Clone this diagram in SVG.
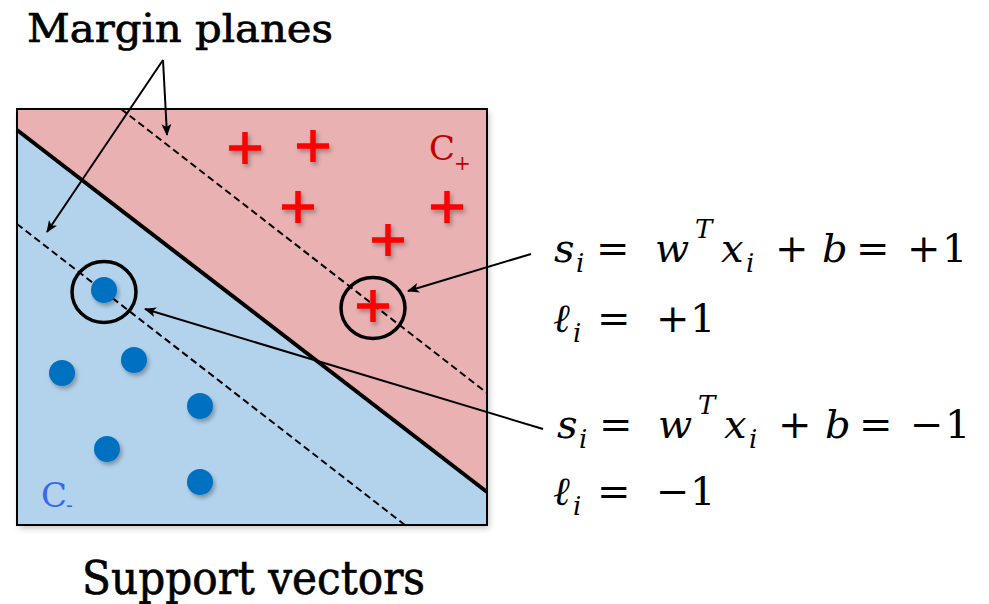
<svg xmlns="http://www.w3.org/2000/svg" width="989" height="604" viewBox="0 0 989 604">
<style>
.lbl{font-family:'DejaVu Serif','Liberation Serif',serif;fill:#000}
.ttl{stroke:#000;stroke-width:0.7}
.m{font-family:'DejaVu Serif','Liberation Serif',serif;font-style:italic;font-size:40px;fill:#000}
.r{font-family:'DejaVu Serif','Liberation Serif',serif;font-style:normal;font-size:40px;fill:#000}
.sub{font-family:'DejaVu Serif','Liberation Serif',serif;font-style:italic;font-size:26px;fill:#000}
.plus{stroke:#ff0000;stroke-width:5.5;fill:none}
.dot{fill:#0070c0}
.ring{fill:none;stroke:#000;stroke-width:3.5}
.conn{stroke:#000;stroke-width:2;fill:none}
.dash{stroke:#000;stroke-width:2;stroke-dasharray:7 4;fill:none}
</style>
<defs>
<marker id="ah" viewBox="0 0 12 10" refX="11" refY="5" markerWidth="12" markerHeight="10" markerUnits="userSpaceOnUse" orient="auto">
<path d="M0,0 L12,5 L0,10 L3,5 z" fill="#000"/>
</marker>
<filter id="sh" x="-30%" y="-30%" width="160%" height="160%">
<feDropShadow dx="2" dy="3" stdDeviation="2" flood-color="#000" flood-opacity="0.3"/>
</filter>
<filter id="bsh" x="-5%" y="-5%" width="110%" height="110%">
<feDropShadow dx="2" dy="3" stdDeviation="3" flood-color="#000" flood-opacity="0.25"/>
</filter>
</defs>

<g id="plot">
<g filter="url(#bsh)">
<rect x="17" y="109" width="470" height="416" fill="#b3d3ec"/>
</g>
<polygon points="17,109 487,109 487,492 17,130" fill="#e9b1b1"/>
<polygon points="17,130 487,492 487,525 17,525" fill="#b3d3ec"/>
<rect x="17" y="109" width="470" height="416" fill="none" stroke="#000" stroke-width="2"/>
<line x1="17" y1="130" x2="487" y2="492" stroke="#000" stroke-width="4"/>
<line class="dash" x1="121" y1="109" x2="487" y2="393"/>
<line class="dash" x1="17" y1="224" x2="405" y2="525"/>
</g>

<g id="positives" filter="url(#sh)">
<path class="plus" d="M229,148h32M245,132v32"/>
<path class="plus" d="M297,146h32M313,130v32"/>
<path class="plus" d="M282,207h32M298,191v32"/>
<path class="plus" d="M431,207h32M447,191v32"/>
<path class="plus" d="M372,240h32M388,224v32"/>
<path class="plus" d="M357,306h32M373,290v32"/>
</g>

<g id="negatives" filter="url(#sh)">
<circle class="dot" cx="104" cy="290" r="13"/>
<circle class="dot" cx="134" cy="360" r="13"/>
<circle class="dot" cx="62" cy="373" r="13"/>
<circle class="dot" cx="200" cy="406" r="13"/>
<circle class="dot" cx="107" cy="449" r="13"/>
<circle class="dot" cx="200" cy="482" r="13"/>
</g>

<g id="sv-pos"><ellipse class="ring" cx="373" cy="308" rx="32" ry="30.5"/></g>
<g id="sv-neg"><ellipse class="ring" cx="104" cy="292" rx="32" ry="30.5"/></g>

<g id="class-labels">
<text class="lbl" x="429" y="160" font-size="34" style="fill:#c00000">C</text>
<text class="lbl" x="454" y="170" font-size="20" style="fill:#c00000">+</text>
<text class="lbl" x="41" y="507" font-size="34" style="fill:#3a66f0">C</text>
<text class="lbl" x="66" y="512" font-size="20" style="fill:#3a66f0">-</text>
</g>

<g id="connectors">
<line class="conn" x1="163" y1="60" x2="167" y2="135" marker-end="url(#ah)"/>
<line class="conn" x1="163" y1="60" x2="47" y2="232" marker-end="url(#ah)"/>
<line class="conn" x1="531" y1="254" x2="408" y2="291" marker-end="url(#ah)"/>
<line class="conn" x1="543" y1="429" x2="145" y2="309" marker-end="url(#ah)"/>
</g>

<g id="title-margin">
<text class="lbl ttl" x="27" y="42" font-size="40" textLength="306" lengthAdjust="spacingAndGlyphs">Margin planes</text>
</g>
<g id="title-sv">
<text class="lbl ttl" x="82" y="594" font-size="47" textLength="343" lengthAdjust="spacingAndGlyphs">Support vectors</text>
</g>

<g id="eq-pos">
<text class="m" x="554" y="262">s</text>
<text class="sub" x="576" y="272">i</text>
<text class="r" x="596" y="262">=</text>
<text class="m" x="655" y="262">w</text>
<text class="sub" x="695" y="238">T</text>
<text class="m" x="721" y="262">x</text>
<text class="sub" x="746" y="272">i</text>
<text class="r" x="775" y="262">+</text>
<text class="m" x="822" y="262">b</text>
<text class="r" x="856" y="262">=</text>
<text class="r" x="907" y="262">+</text>
<text class="r" x="942" y="262">1</text>
<text class="m" x="553" y="332">ℓ</text>
<text class="sub" x="573" y="342">i</text>
<text class="r" x="597" y="332">=</text>
<text class="r" x="656" y="332">+</text>
<text class="r" x="690" y="332">1</text>
</g>

<g id="eq-neg">
<text class="m" x="557" y="438">s</text>
<text class="sub" x="579" y="448">i</text>
<text class="r" x="599" y="438">=</text>
<text class="m" x="658" y="438">w</text>
<text class="sub" x="698" y="414">T</text>
<text class="m" x="724" y="438">x</text>
<text class="sub" x="749" y="448">i</text>
<text class="r" x="778" y="438">+</text>
<text class="m" x="825" y="438">b</text>
<text class="r" x="859" y="438">=</text>
<text class="r" x="910" y="438">−</text>
<text class="r" x="945" y="438">1</text>
<text class="m" x="553" y="505">ℓ</text>
<text class="sub" x="573" y="515">i</text>
<text class="r" x="597" y="505">=</text>
<text class="r" x="656" y="505">−</text>
<text class="r" x="690" y="505">1</text>
</g>
</svg>
